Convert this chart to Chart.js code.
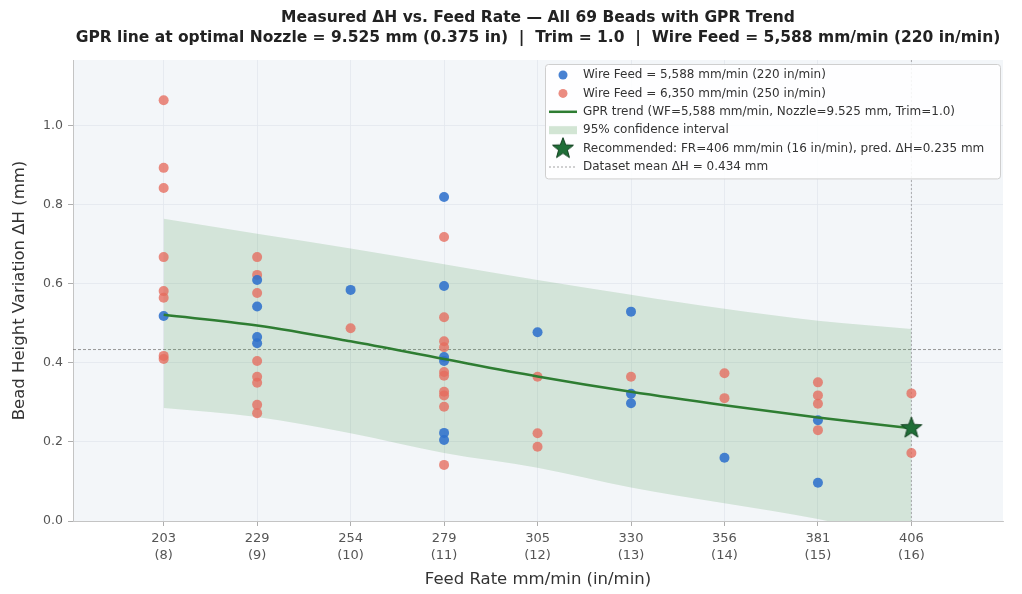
<!DOCTYPE html>
<html>
<head>
<meta charset="utf-8">
<script src="https://cdn.jsdelivr.net/npm/chart.js@4.4.1/dist/chart.umd.min.js"></script>
<style>
  html, body { margin: 0; padding: 0; background: #ffffff; }
  #wrap { width: 1022px; height: 594px; }
</style>
</head>
<body>
<div id="wrap"><canvas id="chart" width="1022" height="594"></canvas></div>
<script>
// feed rate ticks (in/min on the axis, mm/min shown as label)
const feedIn = [8, 9, 10, 11, 12, 13, 14, 15, 16];
const feedMM = [203, 229, 254, 279, 305, 330, 356, 381, 406];

// GPR trend and 95% band at each feed rate
const gprMean = [0.522, 0.495, 0.455, 0.410, 0.366, 0.327, 0.293, 0.262, 0.235];
const ciUpper = [0.765, 0.727, 0.690, 0.650, 0.610, 0.573, 0.537, 0.507, 0.486];
const ciLower = [0.286, 0.263, 0.222, 0.172, 0.135, 0.085, 0.045, 0.005, -0.05];

// measured beads, wire feed 5,588 mm/min
const blueFeedIn = [8, 9, 9, 9, 9, 10, 11, 11, 11, 11, 11, 11, 12, 13, 13, 13, 14, 15, 15];
const blueDH = [0.519, 0.610, 0.543, 0.466, 0.450, 0.585, 0.820, 0.595, 0.415, 0.405, 0.223, 0.205,
  0.478, 0.530, 0.322, 0.298, 0.160, 0.255, 0.097];

// measured beads, wire feed 6,350 mm/min
const redFeedIn = [8, 8, 8, 8, 8, 8, 8, 8, 9, 9, 9, 9, 9, 9, 9, 9, 10, 11, 11, 11, 11, 11, 11, 11, 11,
  11, 11, 12, 12, 12, 13, 14, 14, 15, 15, 15, 15, 16, 16];
const redDH = [1.065, 0.894, 0.843, 0.668, 0.582, 0.565, 0.418, 0.410, 0.668, 0.623, 0.577, 0.405,
  0.365, 0.350, 0.294, 0.273, 0.488, 0.719, 0.516, 0.455, 0.440, 0.377, 0.368, 0.327, 0.318, 0.289,
  0.142, 0.365, 0.222, 0.188, 0.365, 0.374, 0.311, 0.351, 0.318, 0.297, 0.230, 0.323, 0.172];

const recFeedIn = 16;
const recDH = 0.235;
const meanDH = 0.434;
const yTicks = [0, 0.2, 0.4, 0.6, 0.8, 1.0];

const titleLines = [
  "Measured ΔH vs. Feed Rate — All 69 Beads with GPR Trend",
  "GPR line at optimal Nozzle = 9.525 mm (0.375 in)  |  Trim = 1.0  |  Wire Feed = 5,588 mm/min (220 in/min)"
];

const BLUE = "rgba(47,113,204,0.88)";
const RED = "rgba(229,108,94,0.78)";
const GREEN = "#2e7d32";
const BAND = "rgba(56,142,60,0.17)";
const FONT = "'DejaVu Sans', Verdana, sans-serif";

// filled star marker
function makeStar(size) {
  const c = document.createElement("canvas");
  c.width = size; c.height = size;
  const g = c.getContext("2d");
  const cx = size / 2, cy = size / 2, R = size / 2 - 1, r = R * 0.42;
  g.beginPath();
  for (let i = 0; i < 10; i++) {
    const rad = i % 2 === 0 ? R : r;
    const a = -Math.PI / 2 + i * Math.PI / 5;
    const px = cx + rad * Math.cos(a), py = cy + rad * Math.sin(a);
    if (i === 0) g.moveTo(px, py); else g.lineTo(px, py);
  }
  g.closePath();
  g.fillStyle = "#1f6e37";
  g.fill();
  g.lineWidth = 1;
  g.strokeStyle = "#0f3f1d";
  g.stroke();
  return c;
}
const starImg = makeStar(24);

const pts = (xs, ys) => xs.map((x, i) => ({ x: x, y: ys[i] }));

// plot background
const bgPlugin = {
  id: "bg",
  beforeDraw(chart) {
    const { ctx, chartArea: a } = chart;
    ctx.save();
    ctx.fillStyle = "#f3f6f9";
    ctx.fillRect(a.left, a.top, a.right - a.left, a.bottom - a.top);
    ctx.restore();
  }
};

// mean line and recommended feed rate line
const refLines = {
  id: "refLines",
  beforeDatasetsDraw(chart) {
    const { ctx, chartArea: a, scales } = chart;
    const y = scales.y.getPixelForValue(meanDH);
    const x = scales.x.getPixelForValue(recFeedIn);
    ctx.save();
    ctx.strokeStyle = "rgba(120,120,120,0.75)";
    ctx.lineWidth = 1;
    ctx.setLineDash([3, 2]);
    ctx.beginPath();
    ctx.moveTo(a.left, y); ctx.lineTo(a.right, y);
    ctx.stroke();
    ctx.strokeStyle = "rgba(130,130,130,0.6)";
    ctx.setLineDash([2, 2]);
    ctx.beginPath();
    ctx.moveTo(x, a.top); ctx.lineTo(x, a.bottom);
    ctx.stroke();
    ctx.restore();
  }
};

// legend box drawn inside the plot area, top right
const boxLegend = {
  id: "boxLegend",
  afterDraw(chart) {
    const { ctx, chartArea: a } = chart;
    const items = [
      { kind: "dot", color: BLUE, text: "Wire Feed = 5,588 mm/min (220 in/min)" },
      { kind: "dot", color: RED, text: "Wire Feed = 6,350 mm/min (250 in/min)" },
      { kind: "line", text: "GPR trend (WF=5,588 mm/min, Nozzle=9.525 mm, Trim=1.0)" },
      { kind: "patch", text: "95% confidence interval" },
      { kind: "star", text: "Recommended: FR=406 mm/min (16 in/min), pred. ΔH=0.235 mm" },
      { kind: "dash", text: "Dataset mean ΔH = 0.434 mm" }
    ];
    const left = 545, top = a.top + 4, w = a.right - 3 - left, rowH = 18.4, h = items.length * rowH + 4;
    ctx.save();
    ctx.fillStyle = "rgba(255,255,255,0.88)";
    ctx.strokeStyle = "#cfcfcf";
    ctx.lineWidth = 1;
    ctx.beginPath();
    ctx.roundRect(left + 0.5, top + 0.5, w, h, 3);
    ctx.fill();
    ctx.stroke();
    ctx.font = "12px " + FONT;
    ctx.textBaseline = "middle";
    items.forEach((it, i) => {
      const cy = top + 11 + i * rowH;
      const mx = left + 18;
      if (it.kind === "dot") {
        ctx.fillStyle = it.color;
        ctx.beginPath(); ctx.arc(mx, cy, 4.5, 0, Math.PI * 2); ctx.fill();
      } else if (it.kind === "line") {
        ctx.strokeStyle = GREEN; ctx.lineWidth = 2.5;
        ctx.beginPath(); ctx.moveTo(mx - 14, cy); ctx.lineTo(mx + 14, cy); ctx.stroke();
      } else if (it.kind === "patch") {
        ctx.fillStyle = "rgba(56,142,60,0.22)";
        ctx.fillRect(mx - 14, cy - 4, 28, 8);
      } else if (it.kind === "star") {
        ctx.drawImage(starImg, mx - 12, cy - 12);
      } else {
        ctx.strokeStyle = "rgba(140,140,140,0.8)"; ctx.lineWidth = 1; ctx.setLineDash([2, 2]);
        ctx.beginPath(); ctx.moveTo(mx - 14, cy); ctx.lineTo(mx + 14, cy); ctx.stroke();
        ctx.setLineDash([]);
      }
      ctx.fillStyle = "#333333";
      ctx.fillText(it.text, left + 38, cy);
    });
    ctx.restore();
  }
};

new Chart(document.getElementById("chart"), {
  type: "scatter",
  data: {
    datasets: [
      { label: "Recommended", data: [{ x: recFeedIn, y: recDH }], pointStyle: starImg, order: 0 },
      {
        label: "GPR trend", data: pts(feedIn, gprMean), showLine: true, borderColor: GREEN,
        borderWidth: 2.5, pointRadius: 0, cubicInterpolationMode: "monotone", order: 1
      },
      {
        label: "WF 5588", data: pts(blueFeedIn, blueDH), backgroundColor: BLUE,
        borderColor: "rgba(0,0,0,0)", pointRadius: 5, order: 2
      },
      {
        label: "WF 6350", data: pts(redFeedIn, redDH), backgroundColor: RED,
        borderColor: "rgba(0,0,0,0)", pointRadius: 5, order: 3
      },
      {
        label: "CI upper", data: pts(feedIn, ciUpper), showLine: true, borderWidth: 0,
        borderColor: "rgba(0,0,0,0)", pointRadius: 0, cubicInterpolationMode: "monotone",
        fill: "+1", backgroundColor: BAND, order: 4
      },
      {
        label: "CI lower", data: pts(feedIn, ciLower), showLine: true, borderWidth: 0,
        borderColor: "rgba(0,0,0,0)", pointRadius: 0, cubicInterpolationMode: "monotone",
        fill: false, order: 5
      }
    ]
  },
  options: {
    responsive: false,
    animation: false,
    events: [],
    layout: { padding: { left: 6, right: 19, top: 0, bottom: 4 } },
    plugins: {
      legend: { display: false },
      tooltip: { enabled: false },
      title: {
        display: true,
        fullSize: false,
        text: titleLines,
        color: "#222222",
        font: { family: FONT, size: 15.5, weight: "bold", lineHeight: 1.3 },
        padding: { top: 8, bottom: 11.7 }
      }
    },
    scales: {
      x: {
        type: "linear",
        min: 7.03,
        max: 16.98,
        afterBuildTicks(scale) { scale.ticks = feedIn.map(v => ({ value: v })); },
        afterFit(scale) { scale.height = 69; },
        ticks: {
          color: "#555555",
          font: { family: FONT, size: 13, lineHeight: 1.3 },
          padding: 4,
          maxRotation: 0,
          callback(v) {
            const i = feedIn.indexOf(v);
            return i < 0 ? "" : [String(feedMM[i]), "(" + feedIn[i] + ")"];
          }
        },
        grid: { color: "#e2e7ed", lineWidth: 0.8, tickLength: 5, tickColor: "#999999" },
        border: { color: "#c4c4c4", width: 1 },
        title: {
          display: true, text: "Feed Rate mm/min (in/min)", color: "#333333",
          font: { family: FONT, size: 16.5 }, padding: { top: 6, bottom: 0 }
        }
      },
      y: {
        min: 0,
        max: 1.167,
        afterBuildTicks(scale) { scale.ticks = yTicks.map(v => ({ value: v })); },
        afterFit(scale) { scale.width = 67; },
        ticks: {
          color: "#555555",
          font: { family: FONT, size: 12.5 },
          padding: 5,
          callback(v) { return v.toFixed(1); }
        },
        grid: { color: "#e2e7ed", lineWidth: 0.8, tickLength: 5, tickColor: "#999999" },
        border: { color: "#c4c4c4", width: 1 },
        title: {
          display: true, text: "Bead Height Variation ΔH (mm)", color: "#333333",
          font: { family: FONT, size: 16.5 }, padding: { top: 4, bottom: 4 }
        }
      }
    }
  },
  plugins: [bgPlugin, refLines, boxLegend]
});
</script>
</body>
</html>
